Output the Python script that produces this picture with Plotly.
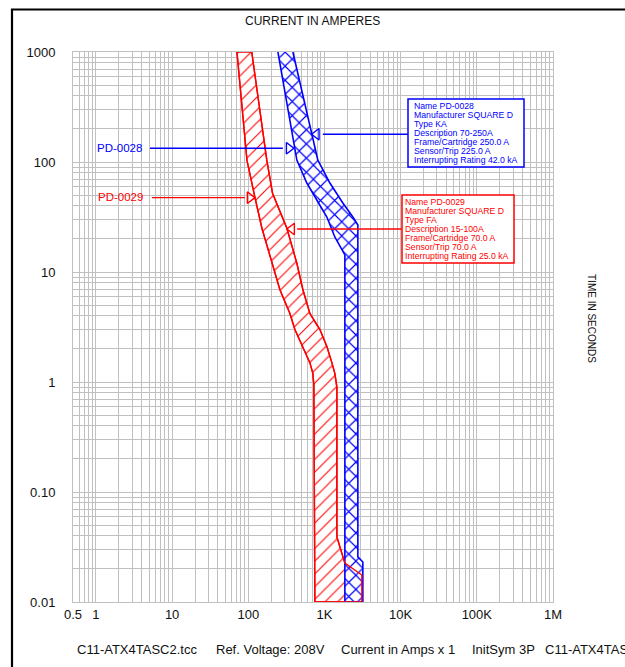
import math
import plotly.graph_objects as go

# ---------------- data ----------------
X_MAJOR = [0.5, 1, 10, 100, 1000, 10000, 100000, 1000000]
X_MAJOR_TEXT = ["0.5", "1", "10", "100", "1K", "10K", "100K", "1M"]
Y_MAJOR = [0.01, 0.1, 1, 10, 100, 1000]
Y_MAJOR_TEXT = ["0.01", "0.10", "1", "10", "100", "1000"]

# PD-0029 (red band) - left (min) edge, top -> bottom
RED_LEFT_I = [71, 96, 122, 151, 260, 352, 409, 521, 643, 704, 726, 748]
RED_LEFT_T = [1000, 104, 48, 25, 6.9, 4.2, 3.0, 2.1, 1.5, 1.2, 0.94, 0.01]
# PD-0029 - right (max) edge, top -> bottom
RED_RIGHT_I = [111, 175, 208, 321, 434, 521, 643, 871, 1075, 1250, 1368, 1455, 1455, 1742, 1853, 3097, 3097]
RED_RIGHT_T = [1000, 104, 52, 25, 12, 6.9, 4.2, 3.0, 2.1, 1.5, 1.2, 0.90, 0.039, 0.026, 0.0226, 0.0176, 0.01]

# PD-0028 (blue band) - left edge, top -> bottom
BLUE_LEFT_I = [245, 434, 587, 1075, 1368, 1742, 1853, 1853]
BLUE_LEFT_T = [1000, 104, 64.4, 31.6, 20.8, 15.8, 14.3, 0.01]
# PD-0028 - right edge, top -> bottom
BLUE_RIGHT_I = [385, 819, 1178, 1742, 2359, 2744, 2744, 3190, 3190]
BLUE_RIGHT_T = [1000, 104, 64.4, 42.4, 31.6, 26.7, 0.0257, 0.0231, 0.01]

BLUE_INFO = ["Name PD-0028", "Manufacturer SQUARE D", "Type KA", "Description 70-250A",
             "Frame/Cartridge 250.0 A", "Sensor/Trip 225.0 A", "Interrupting Rating 42.0 kA"]
RED_INFO = ["Name PD-0029", "Manufacturer SQUARE D", "Type FA", "Description 15-100A",
            "Frame/Cartridge 70.0 A", "Sensor/Trip 70.0 A", "Interrupting Rating 25.0 kA"]

# leader arrows (current A, time s): line start/end, arrow marker
ARROW_0028_LABEL = dict(x=[5.12, 284.4], y=[133.4, 133.4], tip=(341.2, 133.4))
ARROW_0029_LABEL = dict(x=[5.43, 90.2], y=[47.4, 47.4], tip=(104.9, 47.4))
ARROW_0028_BOX = dict(x=[12417, 952.8], y=[178.6, 178.6], tip=(787.0, 178.6))
ARROW_0029_BOX = dict(x=[10280, 438.5], y=[24.6, 24.6], tip=(373.3, 24.6))

FOOTER = ["C11-ATX4TASC2.tcc", "Ref. Voltage: 208V", "Current in Amps x 1", "InitSym 3P", "C11-ATX4TASC2.tcc"]

# ---------------- layout constants ----------------
W, H = 625, 667
L, R, T, B = 73, 72, 52, 65
PW, PH = W - L - R, H - T - B
FONT = "Liberation Sans, Arial, sans-serif"
RED = "#ff0000"
BLUE = "#0000ff"
GRID = "#c0c0c0"


def px(xp):
    return (xp - L) / PW


def py(yp):
    return (H - B - yp) / PH


def log_ticks(lo_exp, hi_exp, start, end):
    vals = []
    for e in range(lo_exp, hi_exp + 1):
        for k in range(1, 10):
            v = float(f"{k}e{e}")
            if start - 1e-12 <= v <= end + 1e-12:
                vals.append(v)
    return vals


def labels_for(vals, majors, texts):
    out = []
    for v in vals:
        lab = ""
        for mv, mt in zip(majors, texts):
            if abs(v - mv) / mv < 1e-9:
                lab = mt
        out.append(lab)
    return out


xt = log_ticks(-1, 6, 0.5, 1e6)
xtext = labels_for(xt, X_MAJOR, X_MAJOR_TEXT)
yt = log_ticks(-2, 3, 0.01, 1000)
ytext = labels_for(yt, Y_MAJOR, Y_MAJOR_TEXT)

fig = go.Figure()

red_x = RED_LEFT_I + RED_RIGHT_I[::-1]
red_y = RED_LEFT_T + RED_RIGHT_T[::-1]
blue_x = BLUE_LEFT_I + BLUE_RIGHT_I[::-1]
blue_y = BLUE_LEFT_T + BLUE_RIGHT_T[::-1]

fig.add_trace(go.Scatter(
    x=red_x, y=red_y, mode="lines", fill="toself",
    line=dict(color=RED, width=1.4),
    fillpattern=dict(shape="/", fgcolor=RED, bgcolor="white", size=9, solidity=0.12, fillmode="replace"),
    hoverinfo="skip", showlegend=False))
fig.add_trace(go.Scatter(
    x=blue_x, y=blue_y, mode="lines", fill="toself",
    line=dict(color=BLUE, width=1.6),
    fillpattern=dict(shape="x", fgcolor=BLUE, bgcolor="white", size=10, solidity=0.22, fillmode="replace"),
    hoverinfo="skip", showlegend=False))
fig.add_trace(go.Scatter(
    x=red_x + [red_x[0]], y=red_y + [red_y[0]], mode="lines",
    line=dict(color=RED, width=1.4), hoverinfo="skip", showlegend=False))

for arr, col, sym in [(ARROW_0028_LABEL, BLUE, "triangle-right-open"),
                      (ARROW_0029_LABEL, RED, "triangle-right-open"),
                      (ARROW_0028_BOX, BLUE, "triangle-left-open"),
                      (ARROW_0029_BOX, RED, "triangle-left-open")]:
    fig.add_trace(go.Scatter(x=arr["x"], y=arr["y"], mode="lines",
                             line=dict(color=col, width=1.4), hoverinfo="skip", showlegend=False))
    fig.add_trace(go.Scatter(x=[arr["tip"][0]], y=[arr["tip"][1]], mode="markers",
                             marker=dict(symbol=sym, size=10, color=col, line=dict(color=col, width=1.4)),
                             hoverinfo="skip", showlegend=False))

axis_common = dict(
    type="log", showgrid=True, gridcolor=GRID, gridwidth=1, zeroline=False,
    showline=True, linecolor=GRID, linewidth=1, mirror=True, ticks="",
    tickfont=dict(family=FONT, size=13, color="#111111"), tickmode="array",
)
fig.update_xaxes(range=[math.log10(0.5), 6], tickvals=xt, ticktext=xtext, ticklabelstandoff=0, **axis_common)
fig.update_yaxes(range=[-2, 3], tickvals=yt, ticktext=ytext, ticklabelstandoff=14, **axis_common)

ann = []
ann.append(dict(text="CURRENT IN AMPERES", x=px(312), y=py(21), xref="paper", yref="paper",
                xanchor="center", yanchor="middle", showarrow=False,
                font=dict(family=FONT, size=12, color="#111111")))
ann.append(dict(text="TIME IN SECONDS", x=px(592), y=py(318), xref="paper", yref="paper",
                xanchor="center", yanchor="middle", showarrow=False, textangle=90,
                font=dict(family=FONT, size=10, color="#111111")))
for txt, xs in zip(FOOTER, [75, 214, 339, 470, 543]):
    ann.append(dict(text=txt, x=px(xs), y=py(649), xref="paper", yref="paper",
                    xanchor="left", yanchor="middle", showarrow=False,
                    font=dict(family=FONT, size=13, color="#111111")))
ann.append(dict(text="PD-0028", x=px(95), y=py(148), xref="paper", yref="paper",
                xanchor="left", yanchor="middle", showarrow=False,
                font=dict(family=FONT, size=11.5, color=BLUE)))
ann.append(dict(text="PD-0029", x=px(96), y=py(197), xref="paper", yref="paper",
                xanchor="left", yanchor="middle", showarrow=False,
                font=dict(family=FONT, size=11.5, color=RED)))
for i, line in enumerate(BLUE_INFO):
    ann.append(dict(text=line, x=px(412), y=py(105.7 + 9.05 * i), xref="paper", yref="paper",
                    xanchor="left", yanchor="middle", showarrow=False,
                    font=dict(family=FONT, size=8.7, color=BLUE)))
for i, line in enumerate(RED_INFO):
    ann.append(dict(text=line, x=px(403), y=py(201.7 + 9.1 * i), xref="paper", yref="paper",
                    xanchor="left", yanchor="middle", showarrow=False,
                    font=dict(family=FONT, size=8.7, color=RED)))

shapes = [
    dict(type="rect", xref="paper", yref="paper", x0=px(408), x1=px(524), y0=py(99), y1=py(167),
         line=dict(color=BLUE, width=1.5), fillcolor="white", layer="above"),
    dict(type="rect", xref="paper", yref="paper", x0=px(402), x1=px(514), y0=py(195), y1=py(263),
         line=dict(color=RED, width=1.5), fillcolor="white", layer="above"),
    dict(type="rect", xref="paper", yref="paper", x0=px(12), x1=px(720), y0=py(9.5), y1=py(760),
         line=dict(color="black", width=2.2), fillcolor="rgba(0,0,0,0)", layer="above"),
]

fig.update_layout(
    width=W, height=H, autosize=False,
    margin=dict(l=L, r=R, t=T, b=B, pad=0),
    paper_bgcolor="white", plot_bgcolor="white",
    showlegend=False, annotations=ann, shapes=shapes,
)

fig.write_html(
    "out.html",
    config={"displayModeBar": False},
    post_script="document.body.style.margin='0';document.documentElement.style.overflow='hidden';",
)
